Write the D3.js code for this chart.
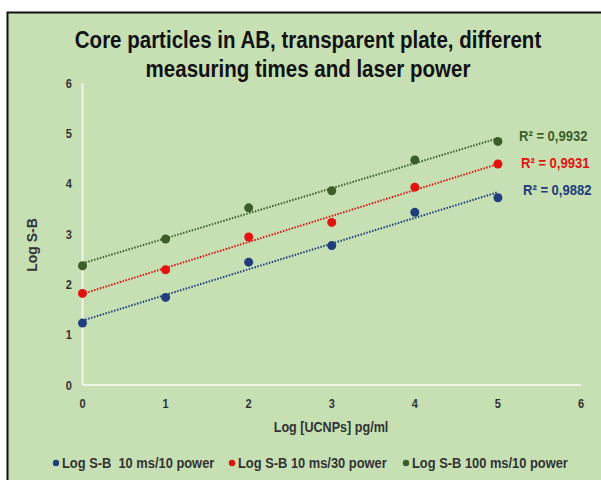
<!DOCTYPE html>
<html>
<head>
<meta charset="utf-8">
<script src="https://cdn.jsdelivr.net/npm/d3@7"></script>
<style>
  body { margin: 0; background: #fff; }
  text { font-family: "Liberation Sans", Arial, sans-serif; font-weight: bold; white-space: pre; }
</style>
</head>
<body>
<div class="chart"></div>
<script>
// data
var xValues = [0, 1, 2, 3, 4, 5];
var seriesNames = ["Log S-B  10 ms/10 power", "Log S-B 10 ms/30 power", "Log S-B 100 ms/10 power"];
var blueValues = [1.23, 1.74, 2.44, 2.77, 3.43, 3.72];
var redValues = [1.82, 2.29, 2.94, 3.23, 3.93, 4.39];
var greenValues = [2.37, 2.90, 3.52, 3.86, 4.47, 4.84];
var r2Labels = ["R² = 0,9882", "R² = 0,9931", "R² = 0,9932"];
var xTicks = [0, 1, 2, 3, 4, 5, 6];
var yTicks = [0, 1, 2, 3, 4, 5, 6];
var titleLines = ["Core particles in AB, transparent plate, different", "measuring times and laser power"];

var colors = ["#203d7c", "#e3120f", "#3c5f2a"];

var width = 601, height = 480;

var svg = d3.select(".chart").append("svg")
	.attr("width", width)
	.attr("height", height);

// narrow look (source used a condensed font) -> squeeze text horizontally
function place(sel, x, y, sx) {
	return sel.attr("transform", function (d, i) {
		var px = typeof x === "function" ? x(d, i) : x;
		var py = typeof y === "function" ? y(d, i) : y;
		return "translate(" + px + "," + py + ") scale(" + sx + ",1)";
	});
}

// chart area background + border
svg.append("rect")
	.attr("x", 7.5).attr("y", 12.5)
	.attr("width", 600).attr("height", 470)
	.attr("fill", "#c6e0b4")
	.attr("stroke", "#111")
	.attr("stroke-width", 2);

// scales
var xScale = d3.scaleLinear().domain([0, 6]).range([82.5, 581]);
var yScale = d3.scaleLinear().domain([0, 6]).range([385, 83]);

// title
place(svg.selectAll(".title")
	.data(titleLines)
	.enter().append("text")
	.attr("class", "title")
	.attr("text-anchor", "middle")
	.attr("font-size", 24)
	.attr("fill", "#111")
	.text(function (d) { return d; }), 308, function (d, i) { return 48 + i * 29; }, 0.855);

// axis lines
svg.append("line")
	.attr("x1", xScale(0)).attr("x2", xScale(0))
	.attr("y1", yScale(6)).attr("y2", yScale(0))
	.attr("stroke", "#eef5e8").attr("stroke-width", 2);
svg.append("line")
	.attr("x1", xScale(0)).attr("x2", xScale(6))
	.attr("y1", yScale(0)).attr("y2", yScale(0))
	.attr("stroke", "#eef5e8").attr("stroke-width", 2);

// x ticks
place(svg.selectAll(".xtick")
	.data(xTicks)
	.enter().append("text")
	.attr("class", "xtick")
	.attr("text-anchor", "middle")
	.attr("font-size", 13)
	.attr("fill", "#333")
	.text(function (d) { return d; }), function (d) { return xScale(d); }, 408, 0.85);

// y ticks
place(svg.selectAll(".ytick")
	.data(yTicks)
	.enter().append("text")
	.attr("class", "ytick")
	.attr("text-anchor", "end")
	.attr("font-size", 13)
	.attr("fill", "#333")
	.text(function (d) { return d; }), 72, function (d) { return yScale(d) + 4.5; }, 0.85);

// axis titles
place(svg.append("text")
	.attr("text-anchor", "middle")
	.attr("font-size", 14)
	.attr("fill", "#333")
	.text("Log [UCNPs] pg/ml"), 331, 432, 0.9);
svg.append("text")
	.attr("transform", "translate(37,245) rotate(-90)")
	.attr("text-anchor", "middle")
	.attr("font-size", 14)
	.attr("fill", "#333")
	.text("Log S-B");

// series
var allSeries = [blueValues, redValues, greenValues];

// linear regression for trendlines
function fit(ys) {
	var mx = d3.mean(xValues), my = d3.mean(ys);
	var sxy = d3.sum(xValues, function (x, i) { return (x - mx) * (ys[i] - my); });
	var sxx = d3.sum(xValues, function (x) { return (x - mx) * (x - mx); });
	var b = sxy / sxx;
	return { slope: b, intercept: my - b * mx };
}

allSeries.forEach(function (ys, s) {
	var f = fit(ys);
	var x0 = d3.min(xValues), x1 = d3.max(xValues);
	svg.append("line")
		.attr("x1", xScale(x0)).attr("y1", yScale(f.intercept + f.slope * x0))
		.attr("x2", xScale(x1)).attr("y2", yScale(f.intercept + f.slope * x1))
		.attr("stroke", colors[s])
		.attr("stroke-width", 2)
		.attr("stroke-dasharray", "1.5,1.5");
});

allSeries.forEach(function (ys, s) {
	svg.selectAll(".dot" + s)
		.data(ys)
		.enter().append("circle")
		.attr("class", "dot" + s)
		.attr("cx", function (d, i) { return xScale(xValues[i]); })
		.attr("cy", function (d) { return yScale(d); })
		.attr("r", 4.5)
		.attr("fill", colors[s]);
});

// R² labels
var r2Pos = [[523, 195], [521, 168], [519, 141]];
r2Labels.forEach(function (t, s) {
	place(svg.append("text")
		.attr("font-size", 14.5)
		.attr("fill", colors[s])
		.text(t), r2Pos[s][0], r2Pos[s][1], 0.9);
});

// legend
var legendX = [56, 232, 406];
var legend = svg.selectAll(".legend")
	.data(seriesNames)
	.enter().append("g")
	.attr("class", "legend")
	.attr("transform", function (d, i) { return "translate(" + legendX[i] + ",463)"; });
legend.append("circle")
	.attr("r", 3.2)
	.attr("fill", function (d, i) { return colors[i]; });
place(legend.append("text")
	.attr("font-size", 14)
	.attr("fill", "#333")
	.text(function (d) { return d; }), 6, 5, 0.92);
</script>
</body>
</html>
